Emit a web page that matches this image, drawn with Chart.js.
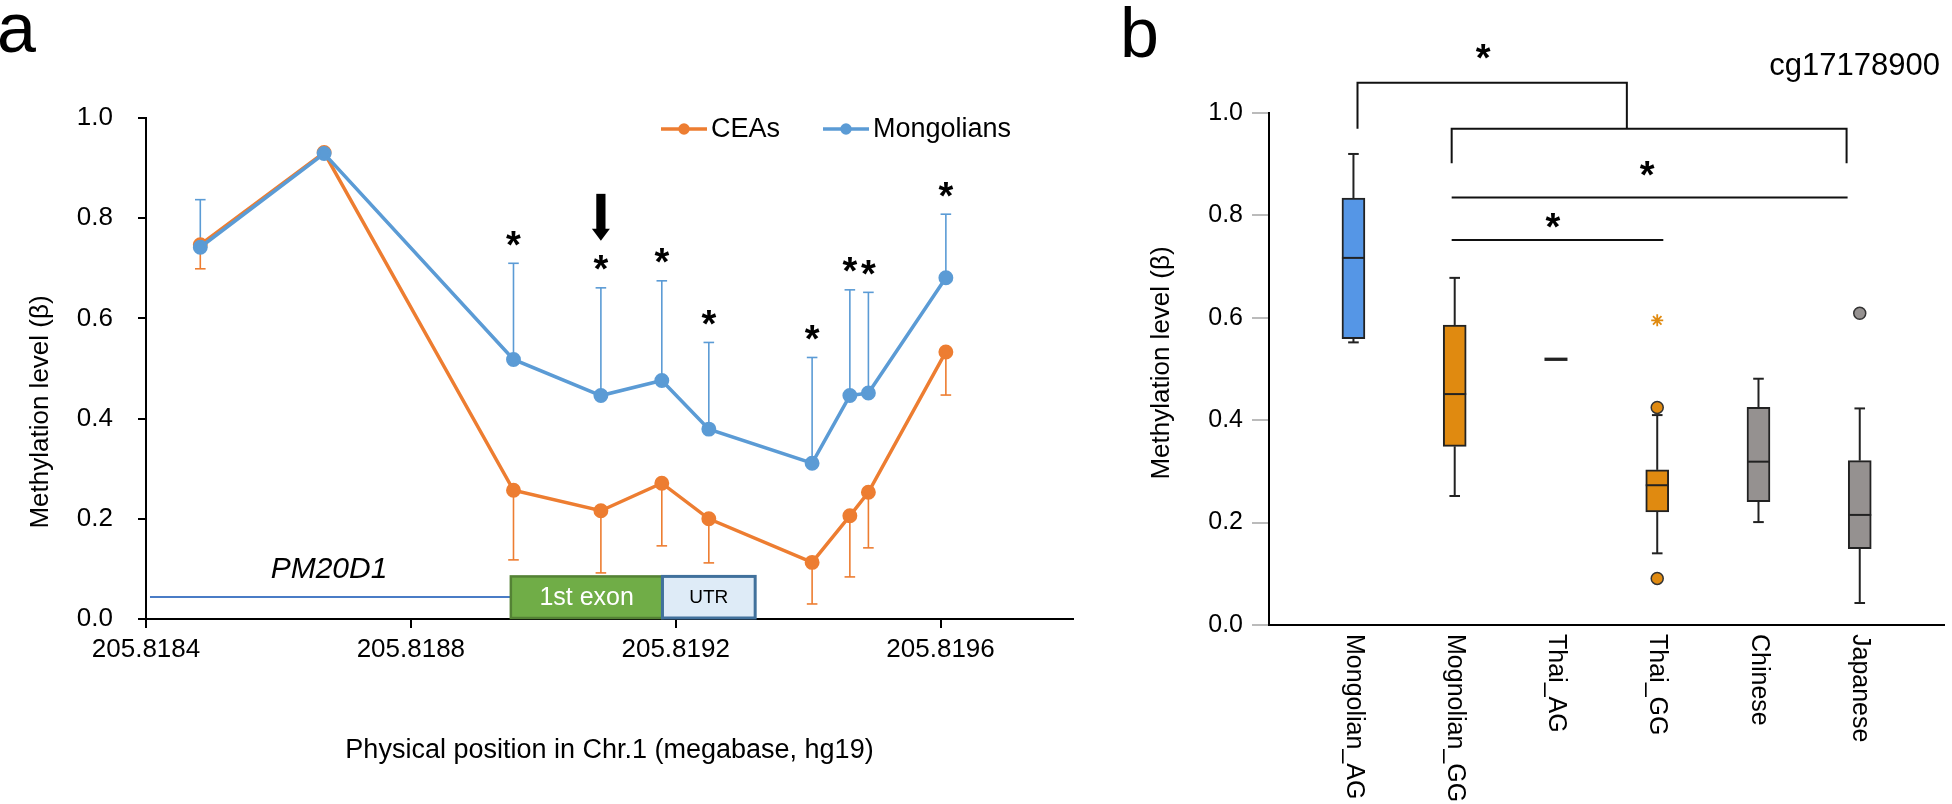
<!DOCTYPE html>
<html lang="en">
<head>
    <meta charset="UTF-8">
    <title>PM20D1 methylation</title>
    <script src="https://cdn.jsdelivr.net/npm/chart.js"></script>
    <style>
        body { margin: 0; background: #fff; }
        #wrap { position: relative; width: 1952px; height: 804px; }
        #chartA { position: absolute; left: 0; top: 0; }
        #chartB { position: absolute; left: 1100px; top: 0; }
    </style>
</head>
<body>
<div id="wrap">
    <canvas id="chartA" width="1100" height="804"></canvas>
    <canvas id="chartB" width="852" height="804"></canvas>
</div>

<script>
    // ---------- panel a: methylation along PM20D1 ----------
    const positions  = [205.818482, 205.818669, 205.818955, 205.819087, 205.819179,
                        205.819250, 205.819406, 205.819463, 205.819491, 205.819608];
    const ceaMeans   = [0.747, 0.931, 0.257, 0.216, 0.271, 0.200, 0.113, 0.206, 0.253, 0.533];
    const ceaErrors  = [0.048, 0, 0.139, 0.124, 0.125, 0.088, 0.083, 0.122, 0.111, 0.086];
    const mongMeans  = [0.742, 0.929, 0.518, 0.446, 0.476, 0.379, 0.311, 0.446, 0.451, 0.681];
    const mongErrors = [0.095, 0, 0.192, 0.215, 0.199, 0.173, 0.211, 0.211, 0.201, 0.127];
    const significant = [false, false, true, true, true, true, true, true, true, true];
    const xTicks = [205.8184, 205.8188, 205.8192, 205.8196];
    const yTicks = [0, 0.2, 0.4, 0.6, 0.8, 1.0];

    // gene model (megabase / beta units)
    const geneStart = 205.818406;
    const exonStart = 205.818951;
    const exonEnd   = 205.819180;
    const utrEnd    = 205.819320;
    const geneLevel = 0.044;
    const boxTop = 0.085;
    const boxBottom = 0.002;

    // ---------- panel b: cg17178900 box plots ----------
    const groups      = ['Mongolian_AG', 'Mognolian_GG', 'Thai_AG', 'Thai_GG', 'Chinese', 'Japanese'];
    const whiskerLow  = [0.552, 0.252, 0.519, 0.140, 0.201, 0.043];
    const quart1      = [0.559, 0.349, 0.519, 0.221, 0.241, 0.149];
    const medians     = [0.717, 0.451, 0.519, 0.273, 0.319, 0.215];
    const quart3      = [0.834, 0.586, 0.519, 0.303, 0.425, 0.321];
    const whiskerHigh = [0.920, 0.678, 0.519, 0.410, 0.481, 0.423];
    const outliersOrange = [{x: 3, y: 0.425}, {x: 3, y: 0.091}];
    const outliersGray   = [{x: 5, y: 0.609}];
    const extremes       = [{x: 3, y: 0.595}];

    // brackets: from/to in group index, level in beta
    const brackets = [
        {from: 0.04, to: 2.70, level: 1.059, legL: 0.969, legR: 0.970},
        {from: 0.97, to: 4.87, level: 0.969, legL: 0.902, legR: 0.902},
        {from: 0.97, to: 4.88, level: 0.835},
        {from: 0.97, to: 3.06, level: 0.752}
    ];
    const bracketStars = [{x: 1.28, y: 1.120}, {x: 2.90, y: 0.8925}, {x: 1.97, y: 0.791}];

    const FONT = 'Arial, "Liberation Sans", Helvetica, sans-serif';
    const ORANGE = '#ED7D31';
    const BLUE = '#5B9BD5';
    const boxColors = ['#5596E6', '#E08A10', '#E08A10', '#E08A10', '#959190', '#959190'];

    // draw an asterisk centred on (x, yc)
    function star(ctx, x, yc, size, color) {
        ctx.font = 'bold ' + size + 'px ' + FONT;
        ctx.fillStyle = color || '#000';
        ctx.textAlign = 'center';
        ctx.textBaseline = 'alphabetic';
        const m = ctx.measureText('*');
        ctx.fillText('*', x, yc + (m.actualBoundingBoxAscent - m.actualBoundingBoxDescent) / 2);
    }

    function line(ctx, x0, y0, x1, y1) {
        ctx.beginPath();
        ctx.moveTo(x0, y0);
        ctx.lineTo(x1, y1);
        ctx.stroke();
    }

    const panelA = {
        id: 'panelA',
        beforeDatasetsDraw(chart) {
            const {ctx, scales: {x, y}} = chart;
            ctx.save();

            // gene line + exon / UTR boxes
            const gy = y.getPixelForValue(geneLevel);
            ctx.strokeStyle = '#4A7CC6';
            ctx.lineWidth = 2;
            line(ctx, x.getPixelForValue(geneStart), gy, x.getPixelForValue(exonStart), gy);

            const top = y.getPixelForValue(boxTop);
            const bot = y.getPixelForValue(boxBottom);
            const ex0 = x.getPixelForValue(exonStart);
            const ex1 = x.getPixelForValue(exonEnd);
            const ut1 = x.getPixelForValue(utrEnd);
            ctx.fillStyle = '#70AD47';
            ctx.fillRect(ex0, top, ex1 - ex0, bot - top);
            ctx.strokeStyle = '#548235';
            ctx.lineWidth = 2.5;
            ctx.strokeRect(ex0, top, ex1 - ex0, bot - top);
            ctx.fillStyle = '#DEEBF7';
            ctx.fillRect(ex1, top, ut1 - ex1, bot - top);
            ctx.strokeStyle = '#41719C';
            ctx.lineWidth = 3;
            ctx.strokeRect(ex1, top, ut1 - ex1, bot - top);

            ctx.textAlign = 'center';
            ctx.textBaseline = 'middle';
            ctx.fillStyle = '#fff';
            ctx.font = '25px ' + FONT;
            ctx.fillText('1st exon', (ex0 + ex1) / 2, (top + bot) / 2 + 1);
            ctx.fillStyle = '#000';
            ctx.font = '19px ' + FONT;
            ctx.fillText('UTR', (ex1 + ut1) / 2, (top + bot) / 2 + 1);

            // error bars: CEAs downwards, Mongolians upwards
            ctx.lineWidth = 1.6;
            positions.forEach((p, i) => {
                const px = x.getPixelForValue(p);
                if (ceaErrors[i] > 0) {
                    const e = y.getPixelForValue(ceaMeans[i] - ceaErrors[i]);
                    ctx.strokeStyle = ORANGE;
                    line(ctx, px, y.getPixelForValue(ceaMeans[i]), px, e);
                    line(ctx, px - 5.3, e, px + 5.3, e);
                }
                if (mongErrors[i] > 0) {
                    const e = y.getPixelForValue(mongMeans[i] + mongErrors[i]);
                    ctx.strokeStyle = BLUE;
                    line(ctx, px, y.getPixelForValue(mongMeans[i]), px, e);
                    line(ctx, px - 5.3, e, px + 5.3, e);
                }
            });
            ctx.restore();
        },
        afterDraw(chart) {
            const {ctx, scales: {x, y}} = chart;
            ctx.save();

            // significance stars above the Mongolian error bars
            positions.forEach((p, i) => {
                if (!significant[i]) return;
                const cap = y.getPixelForValue(mongMeans[i] + mongErrors[i]);
                star(ctx, x.getPixelForValue(p), cap - 25, 38);
            });

            // arrow above the 4th CpG
            const ax = x.getPixelForValue(positions[3]);
            const cap = y.getPixelForValue(mongMeans[3] + mongErrors[3]);
            ctx.fillStyle = '#000';
            ctx.fillRect(ax - 4.6, cap - 94, 9.2, 36);
            ctx.beginPath();
            ctx.moveTo(ax - 9, cap - 59);
            ctx.lineTo(ax + 9, cap - 59);
            ctx.lineTo(ax, cap - 47);
            ctx.closePath();
            ctx.fill();

            // legend
            ctx.lineWidth = 3.5;
            [['CEAs', ORANGE, 661], ['Mongolians', BLUE, 823]].forEach(([label, color, lx]) => {
                ctx.strokeStyle = color;
                ctx.fillStyle = color;
                line(ctx, lx, 129, lx + 46, 129);
                ctx.beginPath();
                ctx.arc(lx + 23, 129, 5.7, 0, Math.PI * 2);
                ctx.fill();
                ctx.fillStyle = '#000';
                ctx.font = '27px ' + FONT;
                ctx.textAlign = 'left';
                ctx.textBaseline = 'middle';
                ctx.fillText(label, lx + 50, 130);
            });

            // gene name
            ctx.font = 'italic 30px ' + FONT;
            ctx.textAlign = 'center';
            ctx.textBaseline = 'alphabetic';
            ctx.fillText('PM20D1', 329, 578);

            // panel letter
            ctx.font = '70px ' + FONT;
            ctx.textAlign = 'left';
            ctx.fillText('a', -3, 52);

            // y title
            ctx.translate(48, 412);
            ctx.rotate(-Math.PI / 2);
            ctx.font = '26px ' + FONT;
            ctx.textAlign = 'center';
            ctx.fillText('Methylation level (\u03B2)', 0, 0);
            ctx.restore();
        }
    };

    new Chart(document.getElementById('chartA'), {
        type: 'line',
        data: {
            datasets: [
                {
                    label: 'CEAs',
                    data: positions.map((p, i) => ({x: p, y: ceaMeans[i]})),
                    borderColor: ORANGE,
                    backgroundColor: ORANGE,
                    pointBackgroundColor: ORANGE,
                    pointBorderColor: ORANGE,
                    borderWidth: 3.5,
                    pointRadius: 5.7,
                    order: 2
                },
                {
                    label: 'Mongolians',
                    data: positions.map((p, i) => ({x: p, y: mongMeans[i]})),
                    borderColor: BLUE,
                    backgroundColor: BLUE,
                    pointBackgroundColor: BLUE,
                    pointBorderColor: BLUE,
                    borderWidth: 3.5,
                    pointRadius: 5.7,
                    order: 1
                }
            ]
        },
        options: {
            responsive: false,
            animation: false,
            events: [],
            layout: {padding: {left: 0, top: 118, right: 27, bottom: 25}},
            plugins: {legend: {display: false}, tooltip: {enabled: false}},
            scales: {
                x: {
                    type: 'linear',
                    min: 205.8184,
                    max: 205.8198,
                    afterBuildTicks: s => { s.ticks = xTicks.map(v => ({value: v})); },
                    afterFit: s => { s.height = 160; },
                    ticks: {
                        callback: v => v.toFixed(4),
                        font: {size: 26, family: FONT},
                        color: '#000',
                        padding: 6,
                        maxRotation: 0,
                        autoSkip: false
                    },
                    grid: {drawOnChartArea: false, drawTicks: true, tickLength: 9, color: '#000', lineWidth: 2},
                    border: {display: true, color: '#000', width: 2},
                    title: {
                        display: true,
                        text: 'Physical position in Chr.1 (megabase, hg19)',
                        font: {size: 27, family: FONT},
                        color: '#000',
                        padding: {top: 0, bottom: 12}
                    }
                },
                y: {
                    min: 0,
                    max: 1,
                    afterBuildTicks: s => { s.ticks = yTicks.map(v => ({value: v})); },
                    afterFit: s => { s.width = 146; },
                    ticks: {
                        callback: v => v.toFixed(1),
                        font: {size: 26, family: FONT},
                        color: '#000',
                        padding: 25
                    },
                    grid: {drawOnChartArea: false, drawTicks: true, tickLength: 8, color: '#000', lineWidth: 2},
                    border: {display: true, color: '#000', width: 2}
                }
            }
        },
        plugins: [panelA]
    });

    const panelB = {
        id: 'panelB',
        afterDatasetsDraw(chart) {
            const {ctx, scales: {x, y}} = chart;
            ctx.save();
            ctx.strokeStyle = '#222';
            ctx.lineWidth = 2;
            const half = 11.5;
            groups.forEach((g, i) => {
                const cx = x.getPixelForValue(i);
                const lo = y.getPixelForValue(whiskerLow[i]);
                const hi = y.getPixelForValue(whiskerHigh[i]);
                const q1 = y.getPixelForValue(quart1[i]);
                const q3 = y.getPixelForValue(quart3[i]);
                if (hi < q3) {
                    line(ctx, cx, q3, cx, hi);
                    line(ctx, cx - 5.3, hi, cx + 5.3, hi);
                }
                if (lo > q1) {
                    line(ctx, cx, q1, cx, lo);
                    line(ctx, cx - 5.3, lo, cx + 5.3, lo);
                }
                const md = y.getPixelForValue(medians[i]);
                ctx.lineWidth = quart1[i] === quart3[i] ? 3.3 : 2;
                line(ctx, cx - half, md, cx + half, md);
                ctx.lineWidth = 2;
            });
            ctx.restore();
        },
        afterDraw(chart) {
            const {ctx, scales: {x, y}, chartArea} = chart;
            ctx.save();

            // significance brackets
            ctx.strokeStyle = '#111';
            ctx.lineWidth = 2;
            brackets.forEach(b => {
                const x0 = x.getPixelForValue(b.from);
                const x1 = x.getPixelForValue(b.to);
                const yy = y.getPixelForValue(b.level);
                ctx.beginPath();
                if (b.legL !== undefined) {
                    ctx.moveTo(x0, y.getPixelForValue(b.legL));
                    ctx.lineTo(x0, yy);
                    ctx.lineTo(x1, yy);
                    ctx.lineTo(x1, y.getPixelForValue(b.legR));
                } else {
                    ctx.moveTo(x0, yy);
                    ctx.lineTo(x1, yy);
                }
                ctx.stroke();
            });
            bracketStars.forEach(s => star(ctx, x.getPixelForValue(s.x), y.getPixelForValue(s.y), 38));

            // group labels, rotated clockwise
            ctx.fillStyle = '#000';
            ctx.font = '25px ' + FONT;
            ctx.textAlign = 'left';
            ctx.textBaseline = 'middle';
            groups.forEach((g, i) => {
                ctx.save();
                ctx.translate(x.getPixelForValue(i), chartArea.bottom + 9);
                ctx.rotate(Math.PI / 2);
                ctx.fillText(g, 0, 0);
                ctx.restore();
            });

            // CpG id and panel letter
            ctx.textBaseline = 'alphabetic';
            ctx.textAlign = 'right';
            ctx.font = '31px ' + FONT;
            ctx.fillText('cg17178900', 840, 75);
            ctx.textAlign = 'left';
            ctx.font = '70px ' + FONT;
            ctx.fillText('b', 20, 57);

            // y title
            ctx.translate(69, 363);
            ctx.rotate(-Math.PI / 2);
            ctx.font = '26px ' + FONT;
            ctx.textAlign = 'center';
            ctx.fillText('Methylation level (\u03B2)', 0, 0);
            ctx.restore();
        }
    };

    new Chart(document.getElementById('chartB'), {
        type: 'bar',
        data: {
            datasets: [
                {
                    type: 'bar',
                    data: groups.map((g, i) => ({x: i, y: [quart1[i], quart3[i]]})),
                    backgroundColor: boxColors,
                    borderColor: '#222',
                    borderWidth: 2,
                    borderSkipped: false,
                    barThickness: 23
                },
                {
                    type: 'scatter',
                    data: outliersOrange,
                    pointRadius: 6,
                    pointBackgroundColor: '#E08A10',
                    pointBorderColor: '#333',
                    pointBorderWidth: 1.5
                },
                {
                    type: 'scatter',
                    data: outliersGray,
                    pointRadius: 6,
                    pointBackgroundColor: '#959190',
                    pointBorderColor: '#333',
                    pointBorderWidth: 1.5
                },
                {
                    type: 'scatter',
                    data: extremes,
                    pointStyle: 'star',
                    pointRadius: 6,
                    pointBorderColor: '#E08A10',
                    pointBorderWidth: 1.8
                }
            ]
        },
        options: {
            responsive: false,
            animation: false,
            events: [],
            layout: {padding: {left: 0, top: 113, right: 7, bottom: 169}},
            plugins: {legend: {display: false}, tooltip: {enabled: false}},
            scales: {
                x: {
                    type: 'linear',
                    min: -0.834,
                    max: 5.834,
                    offset: false,
                    afterFit: s => { s.height = 10; },
                    ticks: {display: false},
                    grid: {display: true, offset: false, drawOnChartArea: false, drawTicks: false},
                    border: {display: true, color: '#000', width: 2}
                },
                y: {
                    min: 0,
                    max: 1,
                    beginAtZero: true,
                    afterBuildTicks: s => { s.ticks = yTicks.map(v => ({value: v})); },
                    afterFit: s => { s.width = 169; },
                    ticks: {
                        callback: v => v.toFixed(1),
                        font: {size: 25, family: FONT},
                        color: '#000',
                        padding: 9
                    },
                    grid: {drawOnChartArea: false, drawTicks: true, tickLength: 17, color: '#bbb', lineWidth: 2},
                    border: {display: true, color: '#000', width: 2}
                }
            }
        },
        plugins: [panelB]
    });
</script>
</body>
</html>
